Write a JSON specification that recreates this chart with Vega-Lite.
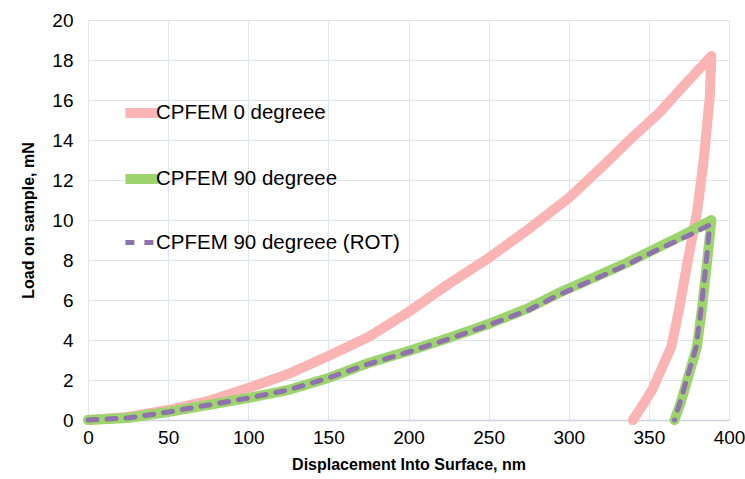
{
  "$schema": "https://vega.github.io/schema/vega-lite/v6.json",
  "width": 641,
  "height": 400,
  "autosize": "none",
  "padding": {"left": 88, "top": 20, "right": 16, "bottom": 59},
  "background": "white",
  "config": {
    "font": "Liberation Sans",
    "view": {"stroke": null}
  },
  "data": {
    "values": [
      {"s": "CPFEM 0 degreee", "i": 0, "x": 0, "y": 0},
      {"s": "CPFEM 0 degreee", "i": 1, "x": 25, "y": 0.15},
      {"s": "CPFEM 0 degreee", "i": 2, "x": 50, "y": 0.5},
      {"s": "CPFEM 0 degreee", "i": 3, "x": 75, "y": 0.95},
      {"s": "CPFEM 0 degreee", "i": 4, "x": 100, "y": 1.6},
      {"s": "CPFEM 0 degreee", "i": 5, "x": 125, "y": 2.3},
      {"s": "CPFEM 0 degreee", "i": 6, "x": 150, "y": 3.2},
      {"s": "CPFEM 0 degreee", "i": 7, "x": 175, "y": 4.15},
      {"s": "CPFEM 0 degreee", "i": 8, "x": 200, "y": 5.4},
      {"s": "CPFEM 0 degreee", "i": 9, "x": 225, "y": 6.8},
      {"s": "CPFEM 0 degreee", "i": 10, "x": 250, "y": 8.1},
      {"s": "CPFEM 0 degreee", "i": 11, "x": 275, "y": 9.55},
      {"s": "CPFEM 0 degreee", "i": 12, "x": 300, "y": 11.1},
      {"s": "CPFEM 0 degreee", "i": 13, "x": 320, "y": 12.6},
      {"s": "CPFEM 0 degreee", "i": 14, "x": 338, "y": 14.0},
      {"s": "CPFEM 0 degreee", "i": 15, "x": 357, "y": 15.4},
      {"s": "CPFEM 0 degreee", "i": 16, "x": 371, "y": 16.65},
      {"s": "CPFEM 0 degreee", "i": 17, "x": 389, "y": 18.2},
      {"s": "CPFEM 0 degreee", "i": 18, "x": 388, "y": 16.15},
      {"s": "CPFEM 0 degreee", "i": 19, "x": 384, "y": 12.85},
      {"s": "CPFEM 0 degreee", "i": 20, "x": 380, "y": 10.35},
      {"s": "CPFEM 0 degreee", "i": 21, "x": 374, "y": 7.85},
      {"s": "CPFEM 0 degreee", "i": 22, "x": 369, "y": 5.6},
      {"s": "CPFEM 0 degreee", "i": 23, "x": 364, "y": 3.65},
      {"s": "CPFEM 0 degreee", "i": 24, "x": 352, "y": 1.5},
      {"s": "CPFEM 0 degreee", "i": 25, "x": 345, "y": 0.6},
      {"s": "CPFEM 0 degreee", "i": 26, "x": 340, "y": 0},
      {"s": "CPFEM 90 degreee", "i": 0, "x": 0, "y": 0},
      {"s": "CPFEM 90 degreee", "i": 1, "x": 25, "y": 0.1},
      {"s": "CPFEM 90 degreee", "i": 2, "x": 50, "y": 0.4},
      {"s": "CPFEM 90 degreee", "i": 3, "x": 75, "y": 0.75},
      {"s": "CPFEM 90 degreee", "i": 4, "x": 100, "y": 1.1},
      {"s": "CPFEM 90 degreee", "i": 5, "x": 125, "y": 1.5},
      {"s": "CPFEM 90 degreee", "i": 6, "x": 150, "y": 2.1},
      {"s": "CPFEM 90 degreee", "i": 7, "x": 175, "y": 2.85},
      {"s": "CPFEM 90 degreee", "i": 8, "x": 200, "y": 3.45},
      {"s": "CPFEM 90 degreee", "i": 9, "x": 225, "y": 4.1},
      {"s": "CPFEM 90 degreee", "i": 10, "x": 250, "y": 4.8},
      {"s": "CPFEM 90 degreee", "i": 11, "x": 275, "y": 5.6},
      {"s": "CPFEM 90 degreee", "i": 12, "x": 295, "y": 6.4},
      {"s": "CPFEM 90 degreee", "i": 13, "x": 315, "y": 7.1},
      {"s": "CPFEM 90 degreee", "i": 14, "x": 336, "y": 7.85},
      {"s": "CPFEM 90 degreee", "i": 15, "x": 355, "y": 8.6},
      {"s": "CPFEM 90 degreee", "i": 16, "x": 374, "y": 9.35},
      {"s": "CPFEM 90 degreee", "i": 17, "x": 389, "y": 10.0},
      {"s": "CPFEM 90 degreee", "i": 18, "x": 386, "y": 7.65},
      {"s": "CPFEM 90 degreee", "i": 19, "x": 383, "y": 5.5},
      {"s": "CPFEM 90 degreee", "i": 20, "x": 380, "y": 3.65},
      {"s": "CPFEM 90 degreee", "i": 21, "x": 374, "y": 2.0},
      {"s": "CPFEM 90 degreee", "i": 22, "x": 370, "y": 0.9},
      {"s": "CPFEM 90 degreee", "i": 23, "x": 366, "y": 0},
      {"s": "CPFEM 90 degreee (ROT)", "i": 0, "x": 0, "y": 0},
      {"s": "CPFEM 90 degreee (ROT)", "i": 1, "x": 25, "y": 0.1},
      {"s": "CPFEM 90 degreee (ROT)", "i": 2, "x": 50, "y": 0.4},
      {"s": "CPFEM 90 degreee (ROT)", "i": 3, "x": 75, "y": 0.75},
      {"s": "CPFEM 90 degreee (ROT)", "i": 4, "x": 100, "y": 1.1},
      {"s": "CPFEM 90 degreee (ROT)", "i": 5, "x": 125, "y": 1.5},
      {"s": "CPFEM 90 degreee (ROT)", "i": 6, "x": 150, "y": 2.1},
      {"s": "CPFEM 90 degreee (ROT)", "i": 7, "x": 175, "y": 2.8},
      {"s": "CPFEM 90 degreee (ROT)", "i": 8, "x": 200, "y": 3.4},
      {"s": "CPFEM 90 degreee (ROT)", "i": 9, "x": 225, "y": 4.05},
      {"s": "CPFEM 90 degreee (ROT)", "i": 10, "x": 250, "y": 4.75},
      {"s": "CPFEM 90 degreee (ROT)", "i": 11, "x": 275, "y": 5.5},
      {"s": "CPFEM 90 degreee (ROT)", "i": 12, "x": 295, "y": 6.3},
      {"s": "CPFEM 90 degreee (ROT)", "i": 13, "x": 315, "y": 7.0},
      {"s": "CPFEM 90 degreee (ROT)", "i": 14, "x": 336, "y": 7.75},
      {"s": "CPFEM 90 degreee (ROT)", "i": 15, "x": 355, "y": 8.5},
      {"s": "CPFEM 90 degreee (ROT)", "i": 16, "x": 374, "y": 9.2},
      {"s": "CPFEM 90 degreee (ROT)", "i": 17, "x": 388, "y": 9.75},
      {"s": "CPFEM 90 degreee (ROT)", "i": 18, "x": 385.5, "y": 7.65},
      {"s": "CPFEM 90 degreee (ROT)", "i": 19, "x": 382.5, "y": 5.5},
      {"s": "CPFEM 90 degreee (ROT)", "i": 20, "x": 379.5, "y": 3.65},
      {"s": "CPFEM 90 degreee (ROT)", "i": 21, "x": 373.5, "y": 2.0},
      {"s": "CPFEM 90 degreee (ROT)", "i": 22, "x": 369.5, "y": 0.9},
      {"s": "CPFEM 90 degreee (ROT)", "i": 23, "x": 366, "y": 0}
    ]
  },
  "mark": {"type": "line", "strokeCap": "round", "strokeJoin": "round", "clip": false},
  "encoding": {
    "x": {
      "field": "x", "type": "quantitative",
      "scale": {"domain": [0, 400], "nice": false},
      "axis": {
        "title": "Displacement Into Surface, nm",
        "titleFont": "Liberation Sans", "titleFontSize": 16, "titleFontWeight": "bold", "titleColor": "#000",
        "titlePadding": 9,
        "values": [0, 50, 100, 150, 200, 250, 300, 350, 400],
        "labelFontSize": 19, "labelColor": "#000", "labelPadding": 8,
        "labelFlush": false, "labelOverlap": false,
        "ticks": false, "domainColor": "#c9d2de", "domainWidth": 1.5,
        "gridColor": "#dfe5ee", "gridWidth": 1
      }
    },
    "y": {
      "field": "y", "type": "quantitative",
      "scale": {"domain": [0, 20], "nice": false},
      "axis": {
        "title": "Load on sample, mN",
        "titleFont": "Liberation Sans", "titleFontSize": 16, "titleFontWeight": "bold", "titleColor": "#000",
        "titlePadding": 15,
        "values": [0, 2, 4, 6, 8, 10, 12, 14, 16, 18, 20],
        "labelFontSize": 19, "labelColor": "#000", "labelPadding": 15,
        "labelFlush": false, "labelOverlap": false,
        "ticks": false, "domainColor": "#dfe5ee", "domainWidth": 1,
        "gridColor": "#dfe5ee", "gridWidth": 1
      }
    },
    "order": {"field": "i", "type": "quantitative"},
    "color": {
      "field": "s", "type": "nominal",
      "scale": {
        "domain": ["CPFEM 0 degreee", "CPFEM 90 degreee", "CPFEM 90 degreee (ROT)"],
        "range": ["#fbb4b4", "#9dd46d", "#8e71ad"]
      },
      "legend": {
        "title": null,
        "orient": "none",
        "legendX": 32,
        "legendY": 71,
        "symbolType": "stroke",
        "symbolSize": 1100,
        "labelFontSize": 20.5,
        "labelColor": "#000",
        "labelOffset": -8,
        "labelLimit": 400,
        "rowPadding": 24,
        "symbolOpacity": 1
      }
    },
    "strokeWidth": {
      "field": "s", "type": "nominal",
      "scale": {
        "type": "ordinal",
        "domain": ["CPFEM 0 degreee", "CPFEM 90 degreee", "CPFEM 90 degreee (ROT)"],
        "range": [10, 10, 5]
      },
      "legend": null
    },
    "strokeDash": {
      "field": "s", "type": "nominal",
      "scale": {
        "domain": ["CPFEM 0 degreee", "CPFEM 90 degreee", "CPFEM 90 degreee (ROT)"],
        "range": [[1, 0], [1, 0], [9, 10]]
      },
      "legend": null
    }
  }
}
